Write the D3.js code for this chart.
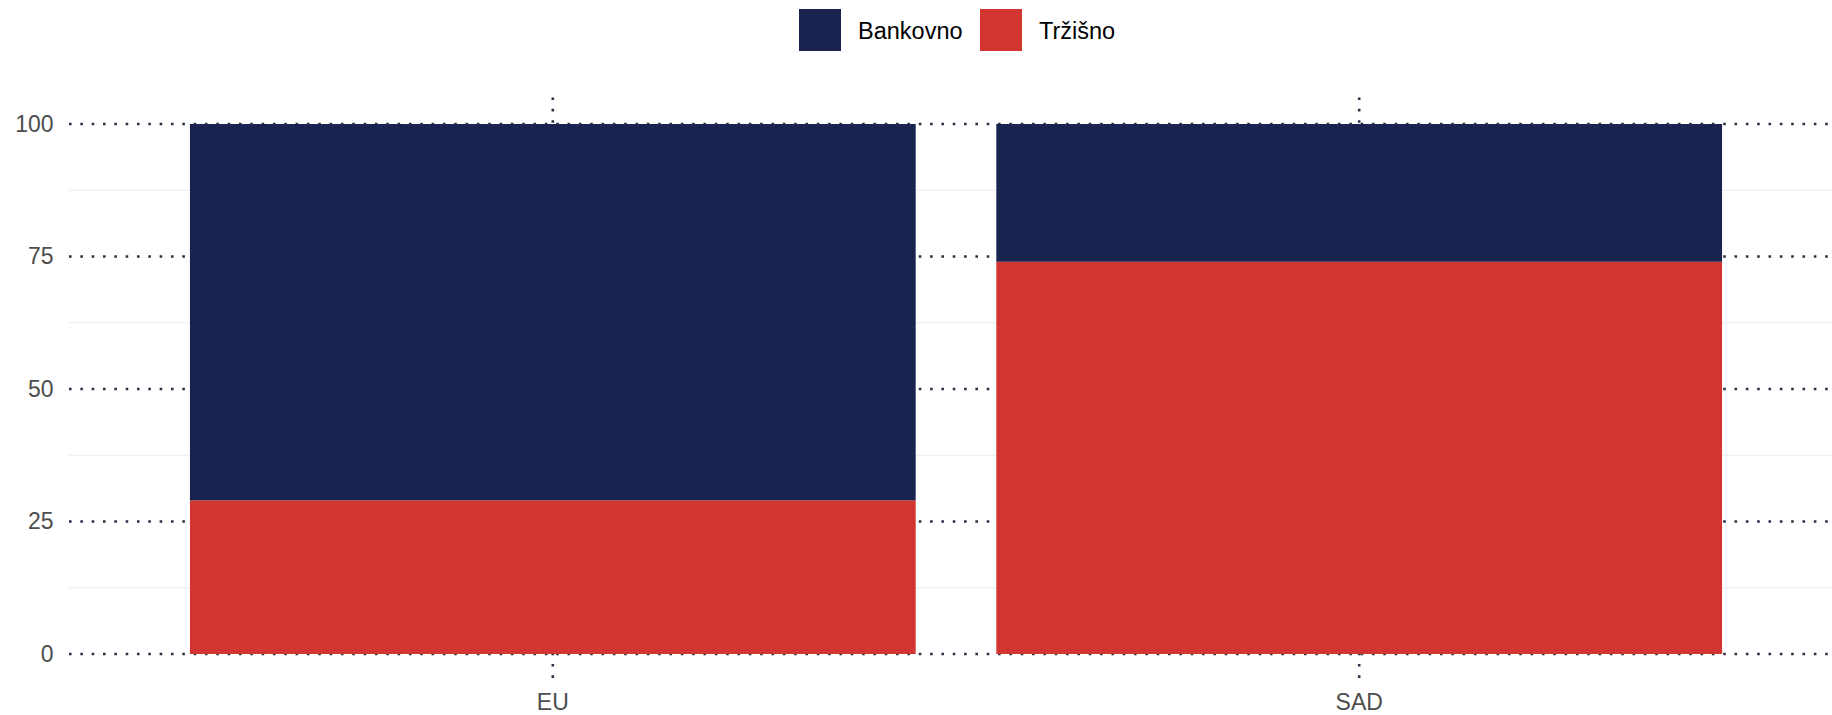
<!DOCTYPE html>
<html>
<head>
<meta charset="utf-8">
<script src="https://cdn.jsdelivr.net/npm/d3@7"></script>
<style>
  html, body { margin: 0; padding: 0; background: #ffffff; }
  svg { display: block; font-family: "Liberation Sans", Arial, Helvetica, sans-serif; }
</style>
</head>
<body>
<svg id="chart" width="1832" height="715"></svg>
<script>
// ---- data ----
const categories = ["EU", "SAD"];
const seriesNames = ["Bankovno", "Tržišno"];
const bankovno = [71, 26];
const trzisno = [29, 74];
const yTicks = [0, 25, 50, 75, 100];
const yMinorTicks = [12.5, 37.5, 62.5, 87.5];

// ---- styles ----
const colors = { "Bankovno": "#1a2350", "Tržišno": "#d33531" };
const W = 1832, H = 715;
const panel = { left: 69, right: 1843, top: 97.5, bottom: 680.5 };

const svg = d3.select("#chart");

const x = d3.scaleBand()
  .domain(categories)
  .range([panel.left, panel.right])
  .paddingInner(0.1)
  .paddingOuter(0.15);

const y = d3.scaleLinear()
  .domain([-5, 105])
  .range([panel.bottom, panel.top]);

// rows for stacking (Tržišno bottom, Bankovno top)
const rows = categories.map((c, i) => ({ cat: c, "Tržišno": trzisno[i], "Bankovno": bankovno[i] }));
const stack = d3.stack().keys(["Tržišno", "Bankovno"]);
const stacked = stack(rows);

// minor gridlines
svg.append("g").selectAll("line").data(yMinorTicks).join("line")
  .attr("x1", panel.left).attr("x2", W)
  .attr("y1", d => y(d)).attr("y2", d => y(d))
  .attr("stroke", "#ebebeb").attr("stroke-width", 1.1);

// major horizontal dotted gridlines
svg.append("g").selectAll("line").data(yTicks).join("line")
  .attr("x1", panel.left).attr("x2", W)
  .attr("y1", d => y(d)).attr("y2", d => y(d))
  .attr("stroke", "#2a3146").attr("stroke-width", 2.6)
  .attr("stroke-dasharray", "2.6 8.73");

// vertical dotted gridlines
svg.append("g").selectAll("line").data(categories).join("line")
  .attr("x1", d => x(d) + x.bandwidth() / 2).attr("x2", d => x(d) + x.bandwidth() / 2)
  .attr("y1", panel.top).attr("y2", panel.bottom)
  .attr("stroke", "#2a3146").attr("stroke-width", 2.6)
  .attr("stroke-dasharray", "2.6 8.73");

// bars
svg.append("g").selectAll("g").data(stacked).join("g")
  .attr("fill", s => colors[s.key])
  .selectAll("rect").data(s => s).join("rect")
  .attr("x", d => x(d.data.cat))
  .attr("width", x.bandwidth())
  .attr("y", d => y(d[1]))
  .attr("height", d => y(d[0]) - y(d[1]));

// y axis labels
const yAxis = d3.axisLeft(y).tickValues(yTicks).tickSize(0).tickPadding(0);
const gy = svg.append("g").attr("transform", `translate(${panel.left - 15.5},0)`).call(yAxis);
gy.select(".domain").remove();
gy.selectAll("text")
  .attr("font-size", 23).attr("fill", "#4d4d4d")
  .attr("font-family", "'Liberation Sans', Arial, sans-serif");

// x axis labels
const xAxis = d3.axisBottom(x).tickSize(0).tickPadding(0);
const gx = svg.append("g").attr("transform", `translate(0,${panel.bottom + 13})`).call(xAxis);
gx.select(".domain").remove();
gx.selectAll("text")
  .attr("font-size", 23).attr("fill", "#4d4d4d")
  .attr("font-family", "'Liberation Sans', Arial, sans-serif");

// legend
const legendX = [799, 980];
const leg = svg.append("g");
seriesNames.forEach((name, i) => {
  leg.append("rect")
    .attr("x", legendX[i]).attr("y", 9)
    .attr("width", 42).attr("height", 42)
    .attr("fill", colors[name]);
  leg.append("text")
    .attr("x", legendX[i] + 59).attr("y", 38.5)
    .attr("font-size", 23.5).attr("fill", "#000000")
    .text(name);
});
</script>
</body>
</html>
